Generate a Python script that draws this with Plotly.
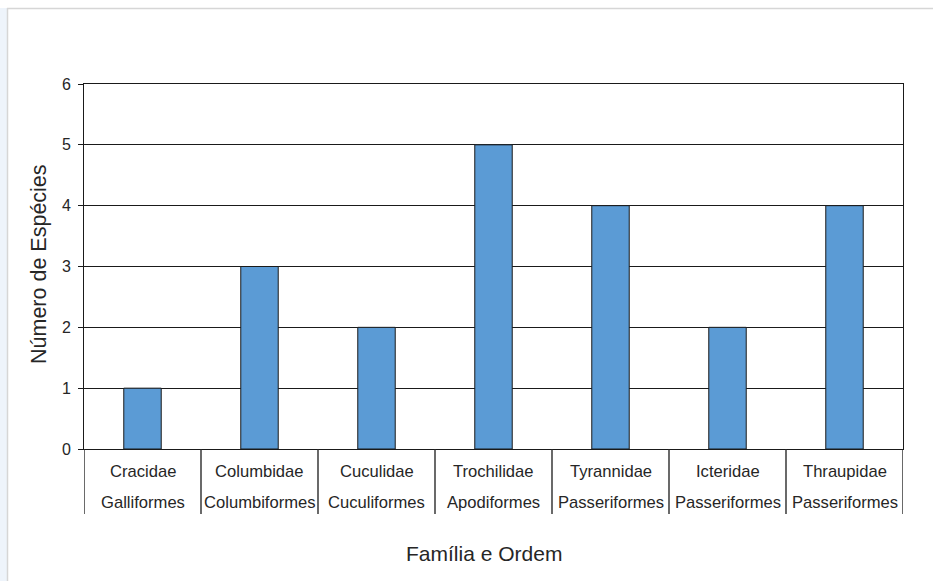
import plotly.graph_objects as go

# Bird families and their orders, with species counts
familias = ["Cracidae", "Columbidae", "Cuculidae", "Trochilidae",
            "Tyrannidae", "Icteridae", "Thraupidae"]
ordens = ["Galliformes", "Columbiformes", "Cuculiformes", "Apodiformes",
          "Passeriformes", "Passeriformes", "Passeriformes"]
especies = [1, 3, 2, 5, 4, 2, 4]
y_ticks = [0, 1, 2, 3, 4, 5, 6]

W, H = 933, 581
L, R, T, B = 84, 30, 84, 132
PW, PH = W - L - R, H - T - B


def px_x(px):
    return (px - L) / PW


def px_y(py):
    return (H - B - py) / PH


FONT = "Liberation Sans, Arial, sans-serif"
TXT = "#262626"
LINE = "#1a1a1a"

fig = go.Figure()
fig.add_trace(go.Bar(
    x=familias,
    y=especies,
    width=0.32,
    marker=dict(color="#5B9BD5", line=dict(color=LINE, width=1)),
    hoverinfo="x+y",
))

annotations = []
shapes = []

# two-row category labels (family above, order below)
for fam, ordem in zip(familias, ordens):
    for text, row_y in ((fam, 471), (ordem, 502)):
        annotations.append(dict(x=fam, y=px_y(row_y), xref="x", yref="paper",
                                xanchor="center", yanchor="middle",
                                text=text, showarrow=False,
                                font=dict(family=FONT, size=16.6, color=TXT)))

# vertical dividers between category cells
for i in range(len(familias) + 1):
    shapes.append(dict(type="line", xref="x", yref="paper",
                       x0=i - 0.5, x1=i - 0.5, y0=0, y1=px_y(514),
                       line=dict(color="#2a2a2a", width=1.4)))

# axis titles
annotations.append(dict(x=px_x(484), y=px_y(553), xref="paper", yref="paper",
                        xanchor="center", yanchor="middle",
                        text="Família e Ordem", showarrow=False,
                        font=dict(family=FONT, size=21, color=TXT)))
annotations.append(dict(x=px_x(39), y=px_y(264), xref="paper", yref="paper",
                        xanchor="center", yanchor="middle",
                        text="Número de Espécies", showarrow=False, textangle=-90,
                        font=dict(family=FONT, size=21.5, color=TXT)))

# outer frame of the chart area and the pale strip at the left edge
shapes.append(dict(type="rect", xref="paper", yref="paper",
                   x0=px_x(0), x1=px_x(7), y0=px_y(581), y1=px_y(8),
                   fillcolor="#eef4fb", line=dict(width=0), layer="below"))
shapes.append(dict(type="line", xref="paper", yref="paper",
                   x0=px_x(7), x1=px_x(933), y0=px_y(8.5), y1=px_y(8.5),
                   line=dict(color="#d6d6d6", width=1.5)))
shapes.append(dict(type="line", xref="paper", yref="paper",
                   x0=px_x(7.5), x1=px_x(7.5), y0=px_y(581), y1=px_y(8),
                   line=dict(color="#d6d6d6", width=1.5)))

fig.update_layout(
    width=W, height=H,
    margin=dict(l=L, r=R, t=T, b=B),
    paper_bgcolor="white",
    plot_bgcolor="white",
    showlegend=False,
    font=dict(family=FONT, color=TXT),
    annotations=annotations,
    shapes=shapes,
    xaxis=dict(
        type="category",
        range=[-0.5, len(familias) - 0.5],
        showticklabels=False,
        ticks="",
        showgrid=False,
        showline=True, linecolor=LINE, linewidth=1, mirror=True,
        zeroline=False,
    ),
    yaxis=dict(
        range=[0, 6],
        tickvals=y_ticks,
        ticktext=[str(v) for v in y_ticks],
        ticks="outside", ticklen=5, tickcolor=LINE, tickwidth=1,
        ticklabelstandoff=4,
        tickfont=dict(family=FONT, size=16, color=TXT),
        showgrid=True, gridcolor=LINE, gridwidth=1,
        showline=True, linecolor=LINE, linewidth=1, mirror=True,
        zeroline=False,
    ),
)

fig.write_html("out.html")
